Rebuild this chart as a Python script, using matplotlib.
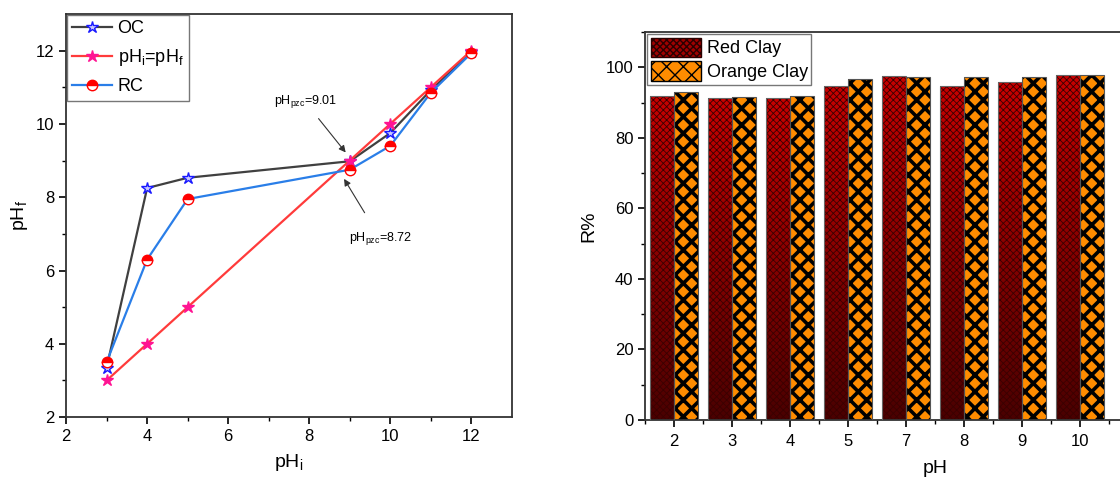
import numpy as np
import matplotlib
matplotlib.use('Agg')
import matplotlib.pyplot as plt
from matplotlib.patches import Patch

plt.rcParams['font.family'] = ['Liberation Sans', 'DejaVu Sans']

# left panel: point of zero charge
ph_i = [3, 4, 5, 9, 10, 11, 12]
ph_oc = [3.35, 8.25, 8.53, 8.98, 9.75, 10.92, 11.95]
ph_rc = [3.5, 6.3, 7.95, 8.75, 9.4, 10.85, 11.93]
ph_ident = [3, 4, 5, 9, 10, 11, 12]

# right panel: removal %
ph_cats = ['2', '3', '4', '5', '7', '8', '9', '10']
r_red = [92.0, 91.2, 91.3, 94.7, 97.6, 94.8, 95.8, 97.9]
r_orange = [92.9, 91.5, 92.0, 96.6, 97.4, 97.2, 97.2, 97.9]

fig = plt.figure(figsize=(11.2, 4.8), dpi=100)

# ---------- left ----------
ax1 = fig.add_axes([0.059, 0.131, 0.398, 0.840])
ax1.plot(ph_i, ph_oc, color='#404040', lw=1.6, marker='*', ms=9,
         mfc='#c8c8ff', mec='#1a1aff', mew=1.0, label='OC', zorder=3)
ax1.plot(ph_i, ph_ident, color='#ff3b3b', lw=1.6, marker='*', ms=9,
         mfc='#ff1493', mec='#ff1493', label='pH$_\\mathregular{i}$=pH$_\\mathregular{f}$', zorder=4)
ax1.plot(ph_i, ph_rc, color='#2a7ee8', lw=1.6, marker='o', ms=7.5, fillstyle='top',
         mfc='#ff0000', mfcalt='white', mec='#ff0000', mew=1.0, label='RC', zorder=5)

ax1.set_xlim(2, 13)
ax1.set_ylim(2, 13)
ax1.set_xticks([2, 4, 6, 8, 10, 12])
ax1.set_xticks([3, 5, 7, 9, 11], minor=True)
ax1.set_yticks([2, 4, 6, 8, 10, 12])
ax1.set_yticks([3, 5, 7, 9, 11], minor=True)
ax1.tick_params(which='both', direction='out', labelsize=12, top=False, right=False)
ax1.tick_params(which='major', length=5, width=1.2)
ax1.tick_params(which='minor', length=3, width=1.0)
ax1.set_xlabel('pH$_\\mathregular{i}$', fontsize=14, labelpad=6)
ax1.set_ylabel('pH$_\\mathregular{f}$', fontsize=14, labelpad=4)
for s in ax1.spines.values():
    s.set_color('#333333')
    s.set_linewidth(1.3)

ax1.annotate('pH$_\\mathregular{pzc}$=9.01', xy=(8.9, 9.22), xytext=(7.9, 10.6),
             ha='center', va='center', fontsize=9,
             arrowprops=dict(arrowstyle='-|>', color='#333333', lw=0.8, mutation_scale=10,
                             shrinkA=5, shrinkB=0))
ax1.annotate('pH$_\\mathregular{pzc}$=8.72', xy=(8.86, 8.5), xytext=(9.75, 6.88),
             ha='center', va='center', fontsize=9,
             arrowprops=dict(arrowstyle='-|>', color='#333333', lw=0.8, mutation_scale=10,
                             shrinkA=12, shrinkB=0))

leg1 = ax1.legend(loc='upper left', fontsize=13, frameon=True, fancybox=False,
                  borderaxespad=0.05, handlelength=2.2, handletextpad=0.3,
                  labelspacing=0.55, borderpad=0.3)
leg1.get_frame().set_edgecolor('#555555')
leg1.get_frame().set_linewidth(1.0)

# ---------- right ----------
ax2 = fig.add_axes([0.576, 0.125, 0.518, 0.808])
x = np.arange(len(ph_cats))
w = 0.41

with plt.rc_context({'hatch.linewidth': 0.6}):
    red_bars = ax2.bar(x - w / 2, r_red, w, color='#b00000', edgecolor='#3a0000',
                       hatch='xxxxx', linewidth=0, zorder=2)
red_cmap = matplotlib.colors.LinearSegmentedColormap.from_list('r', ['#4a0000', '#c80000'])
grad = np.linspace(0.2, 1, 256).reshape(-1, 1)
for b in red_bars:
    x0, y0 = b.get_xy()
    im = ax2.imshow(grad, extent=[x0, x0 + b.get_width(), 0, b.get_height()],
                    cmap=red_cmap, aspect='auto', origin='lower', zorder=1.5)
    im.set_clip_path(b)
    b.set_facecolor('none')
ax2.bar(x - w / 2, r_red, w, color='none', edgecolor='#666666', linewidth=0.8, zorder=3)

with plt.rc_context({'hatch.linewidth': 2.6}):
    ax2.bar(x + w / 2, r_orange, w, color='#ff8c00', edgecolor='black',
            hatch='xx', linewidth=0, zorder=2)
ax2.bar(x + w / 2, r_orange, w, color='none', edgecolor='#555555', linewidth=0.8, zorder=3)

ax2.set_xlim(-0.5, 9.5)
ax2.set_ylim(0, 110)
ax2.set_xticks(x)
ax2.set_xticklabels(ph_cats)
ax2.set_xticks(np.arange(-0.5, 9.5, 1), minor=True)
ax2.set_yticks([0, 20, 40, 60, 80, 100])
ax2.set_yticks([10, 30, 50, 70, 90, 110], minor=True)
ax2.tick_params(which='both', direction='out', labelsize=12, top=False, right=False)
ax2.tick_params(which='major', length=5, width=1.2)
ax2.tick_params(which='minor', length=3, width=1.0)
ax2.tick_params(axis='x', which='major', pad=5)
ax2.set_xlabel('pH', fontsize=14, labelpad=8)
ax2.set_ylabel('R%', fontsize=14, labelpad=6)
for s in ax2.spines.values():
    s.set_color('#333333')
    s.set_linewidth(1.3)

with plt.rc_context({'hatch.linewidth': 0.6}):
    h_red = Patch(facecolor='#a00000', edgecolor='#2a0000', hatch='xxxxx', label='Red Clay')
with plt.rc_context({'hatch.linewidth': 2.6}):
    h_or = Patch(facecolor='#ff8c00', edgecolor='black', hatch='xx', label='Orange Clay')
leg2 = ax2.legend(handles=[h_red, h_or], loc='upper left', fontsize=13, frameon=True,
                  fancybox=False, borderaxespad=0.1, handlelength=2.8, handleheight=1.3,
                  handletextpad=0.3, labelspacing=0.2, borderpad=0.2)
leg2.get_frame().set_edgecolor('#555555')
leg2.get_frame().set_linewidth(1.0)

fig.savefig('out.png', dpi=100)
